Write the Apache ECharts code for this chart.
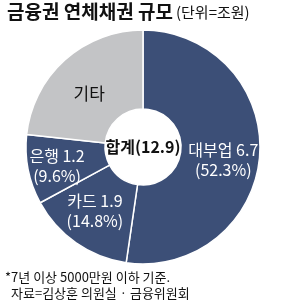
<!DOCTYPE html>
<html><head><meta charset="utf-8">
<script src="https://cdn.jsdelivr.net/npm/echarts@6/dist/echarts.min.js"></script>
<style>html,body{margin:0;padding:0;background:#fff}#c{width:300px;height:304px}</style>
</head><body><div id="c"></div>
<script>
const categories = ['대부업', '카드', '은행', '기타'];
const amounts = [6.7, 1.9, 1.2, null];
const shares = [52.3, 14.8, 9.6, 23.3];
const total = 12.9;
const colors = ['#3c4f77', '#3c4f77', '#3c4f77', '#c3c4c6'];

const F = 'Noto Sans CJK KR';
const chart = echarts.init(document.getElementById('c'), null, {renderer: 'canvas'});
chart.setOption({
  animation: false,
  backgroundColor: '#fff',
  graphic: [
    {type: 'text', z: 100, x: 7, y: 2, style: {text: '금융권 연체채권 규모', fontFamily: F, fontWeight: 'bold', fontSize: 19, fill: '#111'}},
    {type: 'text', z: 100, x: 176, y: 5, style: {text: '(단위=조원)', fontFamily: F, fontSize: 15, fill: '#111'}},
    {type: 'text', z: 100, x: 143, y: 147, style: {text: '합계(' + total + ')', fontFamily: F, fontWeight: 'bold', fontSize: 16, fill: '#111', align: 'center', verticalAlign: 'middle'}},
    {type: 'text', z: 100, x: 5, y: 271, style: {text: '*7년 이상 5000만원 이하 기준.', fontFamily: F, fontSize: 13, fill: '#111'}},
    {type: 'text', z: 100, x: 11, y: 287, style: {text: '자료=김상훈 의원실 · 금융위원회', fontFamily: F, fontSize: 13, fill: '#111'}}
  ],
  series: [{
    type: 'pie',
    center: [143, 147],
    radius: [38, 117],
    startAngle: 90,
    clockwise: true,
    silent: true,
    itemStyle: {borderColor: '#fff', borderWidth: 1.5},
    label: {
      show: true,
      position: 'inside',
      color: '#fff',
      fontFamily: F,
      fontSize: 16,
      lineHeight: 20,
      formatter: function (p) {
        const i = p.dataIndex;
        if (amounts[i] == null) return categories[i];
        return categories[i] + ' ' + amounts[i] + '\n(' + shares[i] + '%)';
      }
    },
    labelLine: {show: false},
    data: categories.map((c, i) => ({
      name: c,
      value: shares[i],
      itemStyle: {color: colors[i]},
      label: [{offset: [0, 7]}, {offset: [-2, -2]}, {offset: [-7, 3]}, {color: '#111', fontSize: 17, offset: [0, 6]}][i]
    }))
  }]
});
</script></body></html>
